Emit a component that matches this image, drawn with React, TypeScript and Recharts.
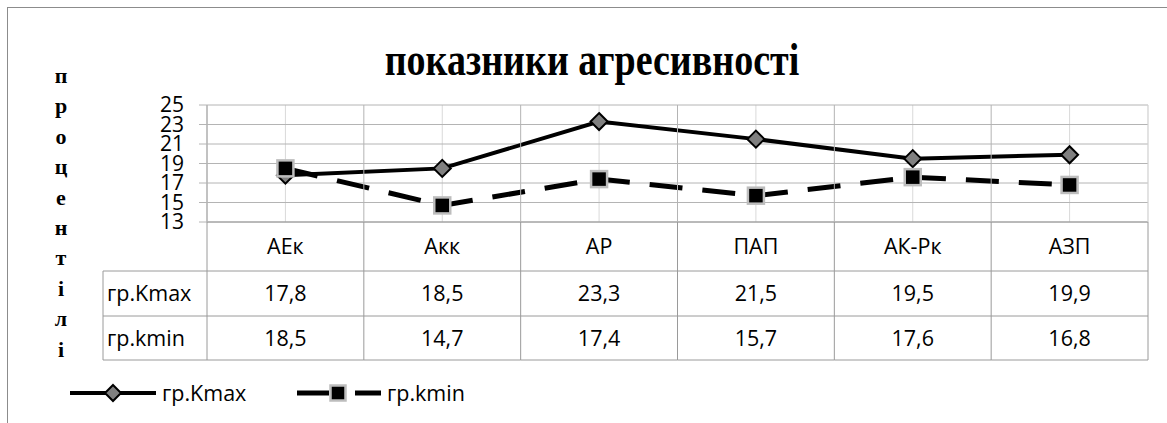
import React from "react";
import {
  LineChart,
  Line,
  XAxis,
  YAxis,
  CartesianGrid,
  Legend,
} from "recharts";

// ── data ──────────────────────────────────────────────────────────────────────
const categories = ["АЕк", "Акк", "АР", "ПАП", "АК-Рк", "АЗП"];
const kmaxValues = [17.8, 18.5, 23.3, 21.5, 19.5, 19.9];
const kminValues = [18.5, 14.7, 17.4, 15.7, 17.6, 16.8];
const yTicks = [13, 15, 17, 19, 21, 23, 25];
const seriesNames = { kmax: "гр.Kmax", kmin: "гр.kmin" };
const chartTitle = "показники агресивності";
const yTitle = "процентілі";

const data = categories.map((c, i) => ({ cat: c, kmax: kmaxValues[i], kmin: kminValues[i] }));

// ── layout ───────────────────────────────────────────────────────────────────
const W = 1167;
const H = 423;
const M = { top: 105, right: 19, bottom: 61, left: 0 };
const Y_AXIS_W = 207;
const X_AXIS_H = 140;
const PLOT_H = H - M.top - M.bottom - X_AXIS_H; // 117
const COL_W = (W - M.right - Y_AXIS_W) / categories.length;

const FONT = "'Open Sans', 'Liberation Sans', sans-serif";
const SERIF = "'Liberation Serif', 'Times New Roman', serif";
const GRID = "#b4b4b4";
const GRID_LIGHT = "#d9d9d9";
const TABLE = "#9a9a9a";
const DASH = "33 20";

// one column of the data table under each category
function TableTick(props: any) {
  const { x, y, payload, index } = props;
  const left = x - COL_W / 2;
  const right = x + COL_W / 2;
  const r1 = y + 49;
  const r2 = y + 94;
  const r3 = y + 138;
  const i = index ?? categories.indexOf(payload.value);
  const txt = { fontFamily: FONT, fontSize: 21.5, fill: "#000", textAnchor: "middle" as const };
  const labLeft = left - 104;
  return (
    <g>
      <line x1={left} x2={left} y1={y - PLOT_H} y2={y} stroke={GRID} />
      <line x1={left} x2={left} y1={y} y2={r3} stroke={TABLE} />
      {i === categories.length - 1 && (
        <>
          <line x1={right} x2={right} y1={y - PLOT_H} y2={y} stroke={GRID_LIGHT} />
          <line x1={right} x2={right} y1={y} y2={r3} stroke={TABLE} />
        </>
      )}
      <line x1={left} x2={right} y1={r1} y2={r1} stroke={TABLE} />
      <line x1={left} x2={right} y1={r2} y2={r2} stroke={TABLE} />
      <line x1={left} x2={right} y1={r3} y2={r3} stroke={TABLE} />
      <text {...txt} x={x} y={y + 32}>{payload.value}</text>
      <text {...txt} x={x} y={y + 79}>{String(kmaxValues[i]).replace(".", ",")}</text>
      <text {...txt} x={x} y={y + 124}>{String(kminValues[i]).replace(".", ",")}</text>
      {i === 0 && (
        <g>
          <line x1={labLeft} x2={labLeft} y1={r1} y2={r3} stroke={TABLE} />
          <line x1={labLeft} x2={left} y1={r1} y2={r1} stroke={TABLE} />
          <line x1={labLeft} x2={left} y1={r2} y2={r2} stroke={TABLE} />
          <line x1={labLeft} x2={left} y1={r3} y2={r3} stroke={TABLE} />
          <text {...txt} textAnchor="start" x={labLeft + 4} y={y + 79}>{seriesNames.kmax}</text>
          <text {...txt} textAnchor="start" x={labLeft + 4} y={y + 124}>{seriesNames.kmin}</text>
        </g>
      )}
    </g>
  );
}

function Diamond({ cx, cy, r = 8.5 }: { cx: number; cy: number; r?: number }) {
  return (
    <polygon
      points={`${cx},${cy - r} ${cx + r},${cy} ${cx},${cy + r} ${cx - r},${cy}`}
      fill="#808080"
      stroke="#000"
      strokeWidth={2}
    />
  );
}

function Square({ cx, cy, s = 16 }: { cx: number; cy: number; s?: number }) {
  return (
    <rect x={cx - s / 2} y={cy - s / 2} width={s} height={s} fill="#000" stroke="#bdbdbd" strokeWidth={2.5} />
  );
}

function LegendContent() {
  const txt = { fontFamily: FONT, fontSize: 21.5, color: "#000" };
  return (
    <div style={{ position: "relative", width: 500, height: 30 }}>
      <svg width={500} height={30} style={{ position: "absolute", left: 0, top: 0 }}>
        <line x1={0} x2={86} y1={15} y2={15} stroke="#000" strokeWidth={4} />
        <Diamond cx={43} cy={15} r={8} />
        <line x1={227} x2={259} y1={15} y2={15} stroke="#000" strokeWidth={5} />
        <line x1={285} x2={311} y1={15} y2={15} stroke="#000" strokeWidth={5} />
        <Square cx={268} cy={15} s={15} />
      </svg>
      <span style={{ ...txt, position: "absolute", left: 92, top: 0, lineHeight: "30px" }}>{seriesNames.kmax}</span>
      <span style={{ ...txt, position: "absolute", left: 317, top: 0, lineHeight: "30px" }}>{seriesNames.kmin}</span>
    </div>
  );
}

export default function App() {
  return (
    <div style={{ position: "absolute", left: 0, top: 0, width: W, height: H, background: "#fff", overflow: "hidden" }}>
      {/* frame */}
      <div style={{ position: "absolute", left: 7, top: 7, right: 0, bottom: 0, borderTop: "1px solid #8c8c8c", borderLeft: "1px solid #8c8c8c" }} />
      {/* title (the original is slightly stretched vertically) */}
      <div
        style={{
          position: "absolute",
          left: 0,
          width: 1184,
          top: 33,
          textAlign: "center",
          fontFamily: SERIF,
          fontWeight: "bold",
          fontSize: 38,
          lineHeight: "44px",
          color: "#000",
          transform: "scaleY(1.2)",
          transformOrigin: "center top",
        }}
      >
        {chartTitle}
      </div>
      {/* vertical axis title, letter by letter */}
      {yTitle.split("").map((ch, i) => (
        <div
          key={i}
          style={{
            position: "absolute",
            left: 46,
            width: 30,
            top: 84 + i * 30.4 - 20,
            height: 24,
            lineHeight: "24px",
            textAlign: "center",
            fontFamily: SERIF,
            fontWeight: "bold",
            fontSize: 22,
            color: "#000",
          }}
        >
          {ch}
        </div>
      ))}
      <div style={{ position: "absolute", left: 0, top: 0 }}>
        <LineChart width={W} height={H} data={data} margin={M}>
          <CartesianGrid horizontal={false} vertical stroke={GRID_LIGHT} />
          <CartesianGrid horizontal vertical={false} stroke={GRID} />
          <XAxis
            dataKey="cat"
            scale="band"
            height={X_AXIS_H}
            axisLine={{ stroke: TABLE }}
            tickLine={false}
            tickSize={0}
            tickMargin={0}
            interval={0}
            tick={<TableTick />}
          />
          <YAxis
            width={Y_AXIS_W}
            domain={[13, 25]}
            ticks={yTicks}
            interval={0}
            axisLine={{ stroke: GRID }}
            tickLine={{ stroke: GRID }}
            tickSize={8}
            tickMargin={15}
            tick={{ fontFamily: FONT, fontSize: 21, fill: "#000" }}
          />
          <Legend
            layout="horizontal"
            verticalAlign="middle"
            align="center"
            content={<LegendContent />}
            wrapperStyle={{ left: 70, top: 378, width: 500, height: 30 }}
          />
          <Line
            dataKey="kmax"
            name={seriesNames.kmax}
            stroke="#000"
            strokeWidth={4}
            isAnimationActive={false}
            dot={(p: any) => <Diamond key={`d${p.index}`} cx={p.cx} cy={p.cy} />}
          />
          <Line
            dataKey="kmin"
            name={seriesNames.kmin}
            stroke="#000"
            strokeWidth={5}
            strokeDasharray={DASH}
            isAnimationActive={false}
            dot={(p: any) => <Square key={`s${p.index}`} cx={p.cx} cy={p.cy} />}
          />
        </LineChart>
      </div>
    </div>
  );
}
